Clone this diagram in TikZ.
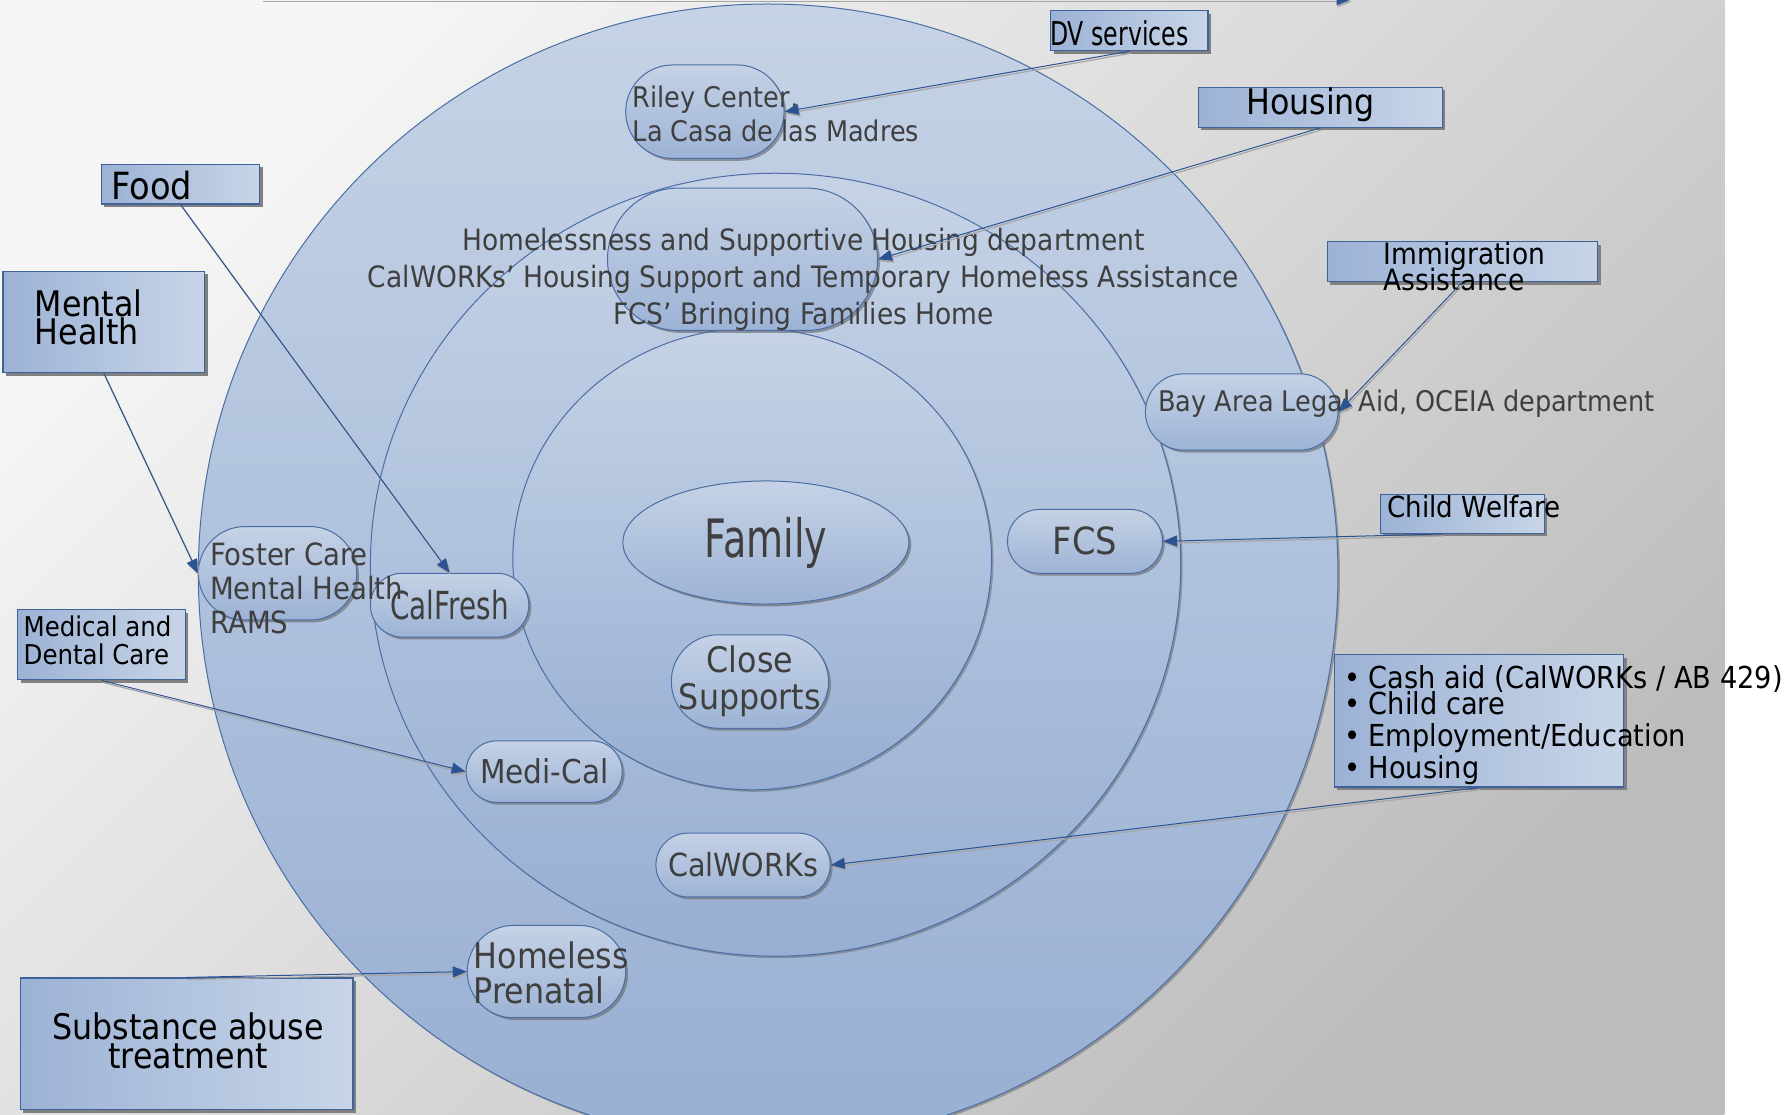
\documentclass[tikz,border=0pt]{standalone}
\usepackage{fontspec}
\setmainfont{DejaVu Sans}[FakeStretch=0.9]
\newfontfamily\condfont{DejaVu Sans}[FakeStretch=0.72]
\usepackage{tikz}
\usetikzlibrary{arrows.meta,shapes.geometric,shadows}
\definecolor{bgtop}{HTML}{F5F5F5}
\definecolor{bgbot}{HTML}{BCBCBC}
\definecolor{ringtop}{HTML}{C6D3E6}
\definecolor{ringbot}{HTML}{98AFD3}
\definecolor{ringline}{HTML}{4A6EA4}
\definecolor{pilltop}{HTML}{C5D2E6}
\definecolor{pillbot}{HTML}{9DB3D5}
\definecolor{boxleft}{HTML}{9CB2D5}
\definecolor{boxright}{HTML}{C8D5E8}
\definecolor{boxline}{HTML}{3F6299}
\definecolor{linkblue}{HTML}{2B5391}
\definecolor{txtgray}{HTML}{3F3F3F}
\newcommand\fsz[2]{\fontsize{#1pt}{#2pt}\selectfont\lineskiplimit=-50pt}
\tikzset{
        ring/.style={top color=ringtop, bottom color=ringbot, draw=ringline, line width=0.5pt,
            drop shadow={shadow xshift=1pt, shadow yshift=-1pt, fill=black!60, opacity=0.5}},
        bubble/.style={shade, top color=pilltop, bottom color=pillbot, draw=ringline, line width=0.5pt,
            inner sep=0pt, text=txtgray,
            drop shadow={shadow xshift=1.2pt, shadow yshift=-1.2pt, fill=black!60, opacity=0.6}},
        pill/.style 2 args={bubble, rectangle, rounded corners=#2*0.5cm, minimum width=#1cm, minimum height=#2cm},
        tag/.style 2 args={rectangle, minimum width=#1cm, minimum height=#2cm, inner sep=0pt,
            shade, left color=boxleft, right color=boxright, draw=boxline, line width=0.6pt,
            drop shadow={shadow xshift=1.5pt, shadow yshift=-1.5pt, fill=black!50, opacity=1}},
        txt/.style={inner sep=0pt, text=txtgray},
        blk/.style={inner sep=0pt, text=black},
        link/.style={draw=linkblue, line width=0.5pt, -{Triangle[length=7pt,width=5.5pt]},
            preaction={draw=black!35, line width=0.6pt, transform canvas={xshift=0.6pt,yshift=-1pt}}},
    }

\begin{document}
\begin{tikzpicture}[x=0.02cm, y=-0.02cm]
    \useasboundingbox (0,0) rectangle (1568,978);
    \fill[white] (0,0) rectangle (1568,978);
    \shade[top color=bgtop, bottom color=bgbot, shading angle=45] (0,0) rectangle (1513,978);

    \shade[ring] (674,503.5) ellipse [x radius=500, y radius=500];
    \shade[ring] (680.5,495.5) ellipse [x radius=355.5, y radius=343.5];
    \shade[ring] (660,490.5) ellipse [x radius=210, y radius=202.5];

    \node[pill={2.78}{1.64}] (riley) at (618.5,98) {};
    \node[pill={4.74}{2.50}] (hsd) at (651.5,227.5) {};
    \node[pill={3.38}{1.34}] (bala) at (1089.5,361.5) {};
    \node[pill={2.78}{1.64}] (foster) at (243.5,503) {};
    \node[pill={2.78}{1.62}] (hp) at (479.5,852.5) {};
    \node[pill={2.78}{1.12}, font={\condfont\fsz{19.3}{22}}] (calfresh) at (394.5,531) {CalFresh};
    \node[pill={2.72}{1.12}, font={\fsz{18.7}{22}}] (fcs) at (952,475) {FCS};
    \node[pill={2.74}{1.08}, font={\fsz{16.4}{20}}] (medi) at (477.5,677) {Medi-Cal};
    \node[pill={3.06}{1.12}, font={\fsz{15.9}{19}}] (calworks) at (652,759) {CalWORKs};
    \node[pill={2.76}{1.64}, align=center, font={\fsz{17.6}{18.3}}] (close) at (658,598) {Close\\Supports};
    \node[bubble, ellipse, minimum width=5.02cm, minimum height=2.16cm, font={\condfont\fsz{26.4}{30}}] (family) at (672,476) {Family};

    \node[txt, anchor=base west, align=left, font={\fsz{14.2}{17}}] (rileytxt) at (555,124.5) {Riley Center,\\La Casa de las Madres};
    \node[txt, anchor=base, align=center, font={\fsz{14.7}{18.4}}] (hsdtxt) at (705,284.3)
        {Homelessness and Supportive Housing department\\CalWORKs’ Housing Support and Temporary Homeless Assistance\\FCS’ Bringing Families Home};
    \node[txt, anchor=base west, font={\fsz{14.2}{17}}] (balatxt) at (1016,361) {Bay Area Legal Aid, OCEIA department};
    \node[txt, anchor=base west, align=left, font={\fsz{15.3}{16.9}}] (fostertxt) at (184,555.6) {Foster Care\\Mental Health\\RAMS};
    \node[txt, anchor=base west, align=left, font={\fsz{17.6}{17.7}}] (hptxt) at (415.4,880.7) {Homeless\\Prenatal};

    \node[tag={2.76}{0.70}] (dv) at (991,27) {};
    \node[tag={4.28}{0.70}] (housing) at (1158.5,94.2) {};
    \node[tag={2.78}{0.70}] (food) at (158.5,161.5) {};
    \node[tag={3.54}{1.78}] (mental) at (91.1,282.5) {};
    \node[tag={4.75}{0.70}] (immig) at (1283.2,229.5) {};
    \node[tag={2.88}{0.68}] (child) at (1283,451) {};
    \node[tag={2.94}{1.23}] (medical) at (89.1,565.8) {};
    \node[tag={5.08}{2.32}] (cash) at (1297.6,632.6) {};
    \node[tag={5.84}{2.31}] (subst) at (163.7,915.9) {};

    \node[blk, anchor=base west, font={\condfont\fsz{16.4}{19}}] (dvtxt) at (921,40) {DV services};
    \node[blk, anchor=base, font={\fsz{17.6}{20}}] (housingtxt) at (1150,100.9) {Housing};
    \node[blk, anchor=base west, font={\fsz{18.7}{21}}] (foodtxt) at (97.4,174.8) {Food};
    \node[blk, anchor=base west, align=left, font={\fsz{17.6}{14.4}}] (mentaltxt) at (30.2,302.6) {Mental\\Health};
    \node[blk, anchor=base west, align=left, font={\fsz{14.7}{12.8}}] (immigtxt) at (1213.7,255) {Immigration\\Assistance};
    \node[blk, anchor=base west, font={\fsz{14.5}{17}}] (childtxt) at (1217.2,453.8) {Child Welfare};
    \node[blk, anchor=base west, align=left, font={\fsz{13.6}{14.1}}] (medicaltxt) at (20.4,583.4) {Medical and\\Dental Care};
    \node[blk, anchor=base west, align=left, font={\fsz{15.1}{15.75}}] (cashtxt) at (1179,682.7)
        {• Cash aid (CalWORKs / AB 429)\\[-2.5pt]• Child care\\• Employment/Education\\• Housing};
    \node[blk, anchor=base, align=center, font={\fsz{17.6}{14.1}}] (substtxt) at (165,937.2) {Substance abuse\\treatment};

    \coordinate (topstart) at (230,-0.3);
    \coordinate (topend) at (1185,-0.3);
    \draw[link] (topstart) -- (topend);
    \draw[link] (dv.south) -- (riley.east);
    \draw[link] (housing.south) -- (hsd.east);
    \draw[link] (food.south) -- (calfresh.north);
    \draw[link] (mental.south) -- (foster.west);
    \draw[link] (immig.south) -- (bala.east);
    \draw[link] ([xshift=1.1cm]child.south west) -- (fcs.east);
    \draw[link] (medical.south) -- (medi.west);
    \draw[link] (cash.south) -- (calworks.east);
    \draw[link] (subst.north) -- (hp.west);
\end{tikzpicture}
\end{document}
